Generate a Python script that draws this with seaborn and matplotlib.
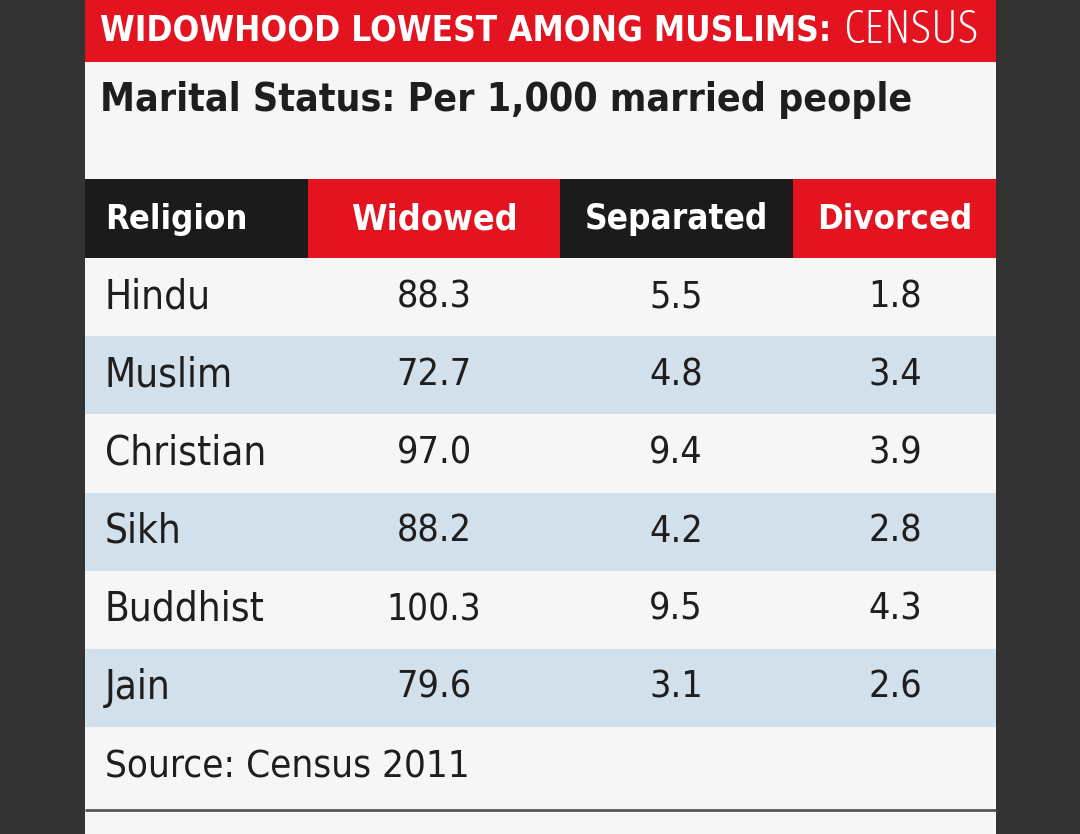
import numpy as np
import pandas as pd
import seaborn as sns
import matplotlib.pyplot as plt
from matplotlib.colors import ListedColormap
from matplotlib.patches import Rectangle
from matplotlib import font_manager
from matplotlib.font_manager import FontProperties

religions = ["Hindu", "Muslim", "Christian", "Sikh", "Buddhist", "Jain"]
widowed = [88.3, 72.7, 97.0, 88.2, 100.3, 79.6]
separated = [5.5, 4.8, 9.4, 4.2, 9.5, 3.1]
divorced = [1.8, 3.4, 3.9, 2.8, 4.3, 2.6]
columns = ["Religion", "Widowed", "Separated", "Divorced"]

df = pd.DataFrame({"Religion": religions, "Widowed": widowed,
                   "Separated": separated, "Divorced": divorced})

sns.set_theme(style="white")
plt.rcParams['font.family'] = ['Roboto', 'DejaVu Sans']


def weight_num(w):
    if isinstance(w, int):
        return w
    return font_manager.weight_dict.get(w, 400)


# look for a condensed face; otherwise fall back to Roboto and fit widths
condensed = [f for f in font_manager.fontManager.ttflist
             if f.fname.lower().endswith(".ttf") and f.style == "normal" and
             ("condensed" in f.name.lower() or "narrow" in f.name.lower()
              or f.stretch in ("condensed", "semi-condensed", "extra-condensed",
                               "ultra-condensed", 500, 400, 300))]


def font(weight, size):
    target = weight_num(weight)
    if condensed:
        best = min(condensed, key=lambda f: abs(weight_num(f.weight) - target))
        if abs(weight_num(best.weight) - target) <= 200:
            return FontProperties(fname=best.fname, size=size)
    return FontProperties(family=['Roboto', 'DejaVu Sans'], weight=weight,
                          size=size)


W, H = 1080, 834
RED = "#e3141f"
BLACK = "#1b1b1b"
PANEL = "#f6f6f6"
STRIPE = "#d2e0ec"
INK = "#1e1e1e"

fig = plt.figure(figsize=(W / 100, H / 100), dpi=100, facecolor="#333333")
renderer = fig.canvas.get_renderer()


def put(axis, x, y, s, weight, size, width, **kw):
    t = axis.text(x, y, s, fontproperties=font(weight, size), **kw)
    w = t.get_window_extent(renderer).width
    if w > width:
        t.set_fontsize(size * width / w)
    return t


ax = fig.add_axes([0, 0, 1, 1])
ax.set_xlim(0, W)
ax.set_ylim(H, 0)
ax.axis("off")

x0, x1 = 85, 996
ax.add_patch(Rectangle((x0, 0), x1 - x0, H, color=PANEL, lw=0))
ax.add_patch(Rectangle((x0, 0), x1 - x0, 62, color=RED, lw=0))

t1 = put(ax, 100, 30, "WIDOWHOOD LOWEST AMONG MUSLIMS:", "bold", 38, 733,
         color="white", va="center", ha="left")
bb = t1.get_window_extent(renderer)
put(ax, 978, 30, "CENSUS", "light", 38, 978 - bb.x1 - 12, color="white",
    va="center", ha="right")

put(ax, 100, 100, "Marital Status: Per 1,000 married people", "bold", 37, 813,
    color=INK, va="center", ha="left")

edges = [85, 308, 560, 793, 996]
head_colors = [BLACK, RED, BLACK, RED]
centers = [None, 434, 676, 895]
head_w = [142, 167, 184, 155]
for i, col in enumerate(columns):
    ax.add_patch(Rectangle((edges[i], 179), edges[i + 1] - edges[i], 79,
                           color=head_colors[i], lw=0))
    if i == 0:
        put(ax, 105, 219, col, "bold", 32, head_w[i], color="white",
            va="center", ha="left")
    else:
        put(ax, centers[i], 219, col, "bold", 32, head_w[i], color="white",
            va="center", ha="center")

put(ax, 105, 768, "Source: Census 2011", "normal", 29, 365, color=INK,
    va="center", ha="left")
ax.plot([x0, x1], [810, 810], color="#555555", lw=2, solid_capstyle="butt")

# body rows as a striped heatmap
top, bot = 258, 727
bax = fig.add_axes([x0 / W, 1 - bot / H, (x1 - x0) / W, (bot - top) / H])
stripes = np.array([[i % 2] for i in range(len(df))])
sns.heatmap(stripes, ax=bax, cmap=ListedColormap([PANEL, STRIPE]),
            cbar=False, xticklabels=False, yticklabels=False, linewidths=0)
bax.axis("off")

tr = bax.get_yaxis_transform()
for i, row in df.iterrows():
    y = i + 0.5
    put(bax, (105 - x0) / (x1 - x0), y, row["Religion"], "normal", 29, 162,
        transform=tr, color=INK, va="center", ha="left")
    for col in columns[1:]:
        cx = (centers[columns.index(col)] - x0) / (x1 - x0)
        put(bax, cx, y, f"{row[col]:.1f}", "normal", 27, 95,
            transform=tr, color=INK, va="center", ha="center")

fig.savefig("out.png", dpi=100, facecolor=fig.get_facecolor())
